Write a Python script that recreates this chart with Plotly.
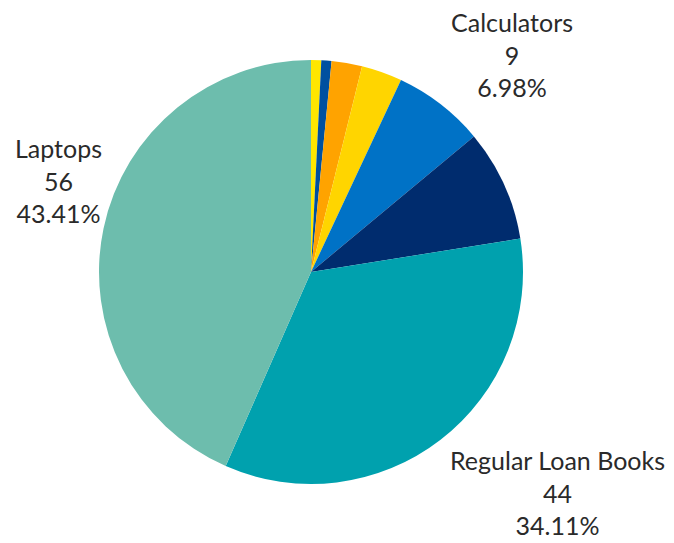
import plotly.graph_objects as go

categories = ["Category A", "Category B", "Category C", "Category D",
              "Calculators", "Category E", "Regular Loan Books", "Laptops"]
values = [1, 1, 3, 4, 9, 11, 44, 56]
colors = ["#FFE600", "#0050A0", "#FFA300", "#FFD500", "#0072C6", "#002C6E", "#00A1AE", "#6DBDAD"]
labeled = ["Calculators", "Regular Loan Books", "Laptops"]
label_pos = {"Calculators": (512, 55), "Regular Loan Books": (557, 492), "Laptops": (58, 181)}

W, H = 674, 543
cx, cy, r = 311, 272, 212

fig = go.Figure(go.Pie(
    labels=categories, values=values, sort=False, direction="clockwise", rotation=0,
    marker=dict(colors=colors, line=dict(width=0)),
    textinfo="none", showlegend=False,
    domain=dict(x=[(cx - r) / W, (cx + r) / W], y=[(H - cy - r) / H, (H - cy + r) / H]),
))

total = sum(values)
for name in labeled:
    v = values[categories.index(name)]
    x, y = label_pos[name]
    fig.add_annotation(
        x=x / W, y=1 - y / H, xref="paper", yref="paper", showarrow=False,
        text=f"{name}<br>{v}<br>{v / total * 100:.2f}%",
        font=dict(family="Lato", size=25, color="#2A2A2A"), align="center",
        xanchor="center", yanchor="middle", borderpad=0,
    )

fig.update_layout(width=W, height=H, margin=dict(l=0, r=0, t=0, b=0),
                  paper_bgcolor="white", plot_bgcolor="white")
fig.write_html("out.html")
